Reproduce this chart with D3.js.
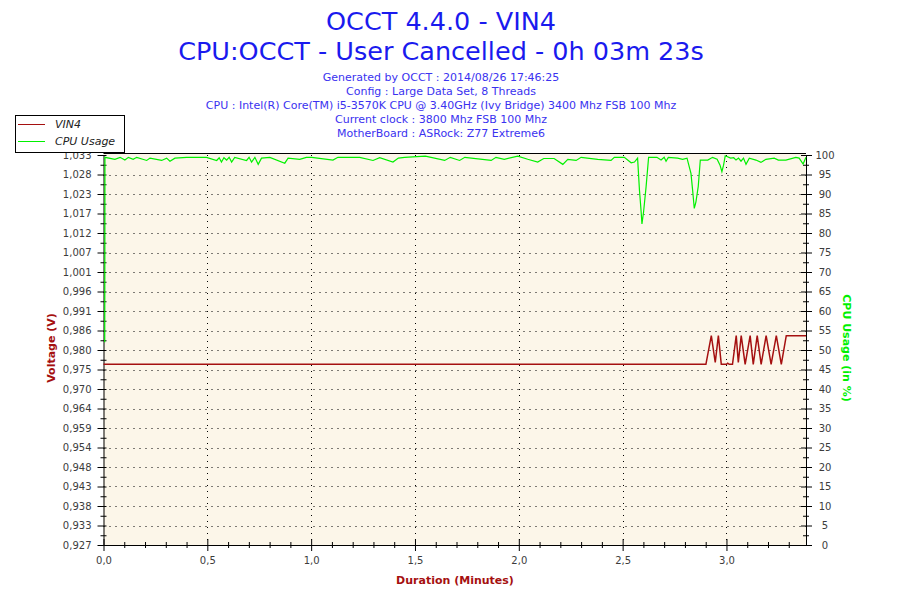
<!DOCTYPE html>
<html>
<head>
<meta charset="utf-8">
<script src="https://cdn.jsdelivr.net/npm/d3@7"></script>
<style>
body{margin:0;background:#fff;}
text{font-family:Tahoma,"DejaVu Sans",sans-serif;}
</style>
</head>
<body>
<div id="chart"></div>
<script>
//data
var titleLines=["OCCT 4.4.0 - VIN4","CPU:OCCT - User Cancelled - 0h 03m 23s"];
var infoLines=["Generated by OCCT : 2014/08/26 17:46:25",
  "Config : Large Data Set, 8 Threads",
  "CPU : Intel(R) Core(TM) i5-3570K CPU @ 3.40GHz (Ivy Bridge) 3400 Mhz FSB 100 Mhz",
  "Current clock : 3800 Mhz FSB 100 Mhz",
  "MotherBoard : ASRock: Z77 Extreme6"];
var seriesNames=["VIN4","CPU Usage"];
var voltTickLabels=["0,927","0,933","0,938","0,943","0,948","0,954","0,959","0,964","0,970","0,975","0,980",
  "0,986","0,991","0,996","1,001","1,007","1,012","1,017","1,023","1,028","1,033"];
var voltMin=0.9272, voltStep=0.0053;
var cpuTicks=[0,5,10,15,20,25,30,35,40,45,50,55,60,65,70,75,80,85,90,95,100];
var xTicks=[0,0.5,1,1.5,2,2.5,3];
var xTickLabels=["0,0","0,5","1,0","1,5","2,0","2,5","3,0"];
var duration=3.383;

// VIN4 in volts, [minute, value]
var vin4=[[0,0.9763],[2.901,0.9763],[2.927,0.9841],[2.946,0.9768],[2.961,0.9841],[2.975,0.9763],
  [3.000,0.9763],[3.006,0.9766],[3.013,0.9763],[3.029,0.9763],[3.047,0.9841],[3.057,0.9768],
  [3.071,0.9841],[3.090,0.9763],[3.114,0.9841],[3.129,0.9763],[3.148,0.9841],[3.167,0.9763],
  [3.191,0.9841],[3.215,0.9763],[3.240,0.9841],[3.264,0.9763],[3.288,0.9841],[3.383,0.9841]];

// CPU usage in %, [minute, value]
var cpu=[[0.006,52],[0.007,99.4],[0.055,98.9],[0.08,99.4],[0.103,98.7],[0.12,99.4],[0.143,98.9],[0.16,99.4],
  [0.208,98.6],[0.224,99.2],[0.28,98.6],[0.304,99.2],[0.32,98.4],[0.344,99.2],[0.40,99.4],[0.448,99.4],
  [0.496,99.4],[0.545,98.6],[0.557,99.3],[0.568,98.2],[0.58,99.3],[0.593,98.7],[0.605,99.4],[0.617,98.2],
  [0.632,99.4],[0.689,98.6],[0.701,99.4],[0.713,98.2],[0.729,99.4],[0.745,97.6],[0.761,99.2],[0.801,99.4],
  [0.873,97.9],[0.889,99.2],[0.945,98.9],[0.977,99.4],[1.003,99.4],[1.105,98.7],[1.129,99.4],[1.234,99.4],
  [1.298,98.6],[1.33,99.3],[1.394,98.2],[1.42,99.2],[1.45,99.4],[1.55,99.7],[1.643,98.6],[1.67,99.4],
  [1.715,98.6],[1.74,99.4],[1.867,98.6],[1.89,99.4],[1.93,98.9],[1.995,99.7],[2.043,98.9],[2.091,98.2],
  [2.12,99.1],[2.17,99.1],[2.212,97.6],[2.236,98.9],[2.276,98.6],[2.30,99.4],[2.38,98.9],[2.444,98.6],
  [2.46,99.4],[2.508,99.4],[2.541,98.0],[2.557,98.2],[2.572,99.2],[2.581,91.0],[2.589,85.5],[2.593,82.3],
  [2.601,85.5],[2.613,91.9],[2.625,99.4],[2.665,99.4],[2.685,98.7],[2.70,99.4],[2.709,98.4],[2.72,99.4],
  [2.765,99.2],[2.789,98.9],[2.81,99.2],[2.829,95.3],[2.837,91.0],[2.845,86.3],[2.853,88.0],[2.864,91.9],
  [2.874,98.7],[2.91,98.7],[2.933,99.4],[2.955,98.9],[2.969,97.4],[2.978,95.7],[2.986,97.4],[2.994,99.8],
  [3.02,99.2],[3.035,99.3],[3.046,98.7],[3.058,99.2],[3.070,98.4],[3.082,99.2],[3.094,97.6],[3.11,99.2],
  [3.142,98.7],[3.166,98.1],[3.19,98.9],[3.23,99.2],[3.25,98.7],[3.286,98.7],[3.334,99.4],[3.35,99.2],
  [3.369,97.7],[3.383,99.4]];

var W=900,H=600;
var plotL=103.5,plotR=806,plotT=155,plotB=545;
var voltRed="#a51010",cpuGreen="#00f000",textGray="#3c3c3c";

var svg=d3.select("#chart").append("svg").attr("width",W).attr("height",H);

var x=d3.scaleLinear().domain([0,duration]).range([plotL,plotR]);
var yV=d3.scaleLinear().domain([voltMin,voltMin+20*voltStep]).range([plotB,plotT]);
var yC=d3.scaleLinear().domain([0,100]).range([plotB,plotT]);
var voltTicks=d3.range(voltTickLabels.length).map(function(i){return voltMin+i*voltStep;});

//titles
svg.selectAll("text.title").data(titleLines).enter().append("text")
  .attr("x",441).attr("y",function(d,i){return 30+i*30;})
  .attr("text-anchor","middle").attr("font-size",25.5).attr("fill","#1a1aee").text(function(d){return d;});
svg.selectAll("text.info").data(infoLines).enter().append("text")
  .attr("x",441).attr("y",function(d,i){return 80.5+i*14;})
  .attr("text-anchor","middle").attr("font-size",11).attr("fill","#3a32f0").text(function(d){return d;});

//plot background
svg.append("rect").attr("x",plotL).attr("y",plotT-2).attr("width",plotR-plotL).attr("height",plotB-plotT+2).attr("fill","#fcf6e9");

//grid
var grid=svg.append("g").attr("stroke","#000").attr("stroke-width",1).attr("stroke-dasharray","1,5");
grid.selectAll("line.v").data(xTicks.slice(1)).enter().append("line")
  .attr("x1",function(d){return Math.round(x(d))+0.5;}).attr("x2",function(d){return Math.round(x(d))+0.5;})
  .attr("y1",plotT).attr("y2",plotB);
grid.selectAll("line.h").data(voltTicks.slice(1,-1)).enter().append("line")
  .attr("y1",function(d){return Math.round(yV(d))+0.5;}).attr("y2",function(d){return Math.round(yV(d))+0.5;})
  .attr("x1",plotL).attr("x2",plotR);

//axes
function styleAxis(g,fs){
  g.select(".domain").attr("stroke","#000");
  g.selectAll(".tick line").attr("stroke","#000");
  g.selectAll(".tick text").attr("fill",textGray).attr("font-size",fs).attr("font-family","Tahoma,'DejaVu Sans',sans-serif");
}
var ax=svg.append("g").attr("transform","translate(0,"+plotB+")")
  .call(d3.axisBottom(x).tickValues(xTicks).tickFormat(function(d,i){return xTickLabels[i];}).tickSize(6).tickPadding(6).tickSizeOuter(0));
ax.selectAll(".tick line").attr("y1",-6);
styleAxis(ax,10);
var axm=svg.append("g").attr("transform","translate(0,"+plotB+")")
  .call(d3.axisBottom(x).tickValues(d3.range(1,34).map(function(i){return i/10;}).filter(function(d){return Math.round(d*10)%5!=0;})).tickFormat("").tickSize(3).tickSizeOuter(0));
axm.select(".domain").remove();
axm.selectAll(".tick line").attr("y1",-3).attr("stroke","#000");

var al=svg.append("g").attr("transform","translate("+plotL+",0)")
  .call(d3.axisLeft(yV).tickValues(voltTicks).tickFormat(function(d,i){return voltTickLabels[i];}).tickSize(6).tickPadding(6).tickSizeOuter(0));
al.selectAll(".tick line").attr("x2",-6).attr("x1",3);
styleAxis(al,10);
var alm=svg.append("g").attr("transform","translate("+plotL+",0)")
  .call(d3.axisLeft(yV).tickValues(voltTicks.slice(1).map(function(d){return d-voltStep/2;})).tickFormat("").tickSize(3).tickSizeOuter(0));
alm.select(".domain").remove();
alm.selectAll(".tick line").attr("x1",3).attr("stroke","#000");

var ar=svg.append("g").attr("transform","translate("+plotR+",0)")
  .call(d3.axisRight(yC).tickValues(cpuTicks).tickSize(6).tickPadding(13).tickSizeOuter(0));
ar.selectAll(".tick line").attr("x1",-5);
ar.selectAll(".tick text").attr("text-anchor","middle").attr("x",19);
styleAxis(ar,10);
var arm=svg.append("g").attr("transform","translate("+plotR+",0)")
  .call(d3.axisRight(yC).tickValues(cpuTicks.slice(1).map(function(d){return d-2.5;})).tickFormat("").tickSize(3).tickSizeOuter(0));
arm.select(".domain").remove();
arm.selectAll(".tick line").attr("x1",-3).attr("stroke","#000");

//series (over the axes, like the original)
var lineV=d3.line().x(function(d){return x(d[0]);}).y(function(d){return yV(d[1]);});
var lineC=d3.line().x(function(d){return x(d[0]);}).y(function(d){return yC(d[1]);});
svg.append("path").datum(cpu).attr("d",lineC).attr("fill","none").attr("stroke",cpuGreen).attr("stroke-width",1.2);
svg.append("path").datum(vin4).attr("d",lineV).attr("fill","none").attr("stroke",voltRed).attr("stroke-width",1.5);

//top border
svg.append("line").attr("x1",plotL).attr("x2",plotR).attr("y1",plotT-1.5).attr("y2",plotT-1.5).attr("stroke","#000");

//axis titles
svg.append("text").attr("transform","translate(55,348) rotate(-90)").attr("text-anchor","middle")
  .attr("font-size",11).attr("font-weight","bold").attr("fill",voltRed).text("Voltage (V)");
svg.append("text").attr("transform","translate(843,348) rotate(90)").attr("text-anchor","middle")
  .attr("font-size",11).attr("font-weight","bold").attr("fill",cpuGreen).text("CPU Usage (in %)");
svg.append("text").attr("x",455).attr("y",584).attr("text-anchor","middle")
  .attr("font-size",11).attr("font-weight","bold").attr("fill",voltRed).text("Duration (Minutes)");

//legend
var lg=svg.append("g");
lg.append("rect").attr("x",15.5).attr("y",115.5).attr("width",109).attr("height",37).attr("fill","#fff").attr("stroke","#000");
var legendColors=[voltRed,cpuGreen];
lg.selectAll("line.lg").data(seriesNames).enter().append("line")
  .attr("x1",18).attr("x2",45).attr("y1",function(d,i){return 124.5+i*17;}).attr("y2",function(d,i){return 124.5+i*17;})
  .attr("stroke",function(d,i){return legendColors[i];}).attr("stroke-width",1);
lg.selectAll("text.lg").data(seriesNames).enter().append("text")
  .attr("x",55).attr("y",function(d,i){return 128+i*17;}).attr("font-size",11).attr("font-style","italic")
  .attr("fill","#222").text(function(d){return d;});
</script>
</body>
</html>
